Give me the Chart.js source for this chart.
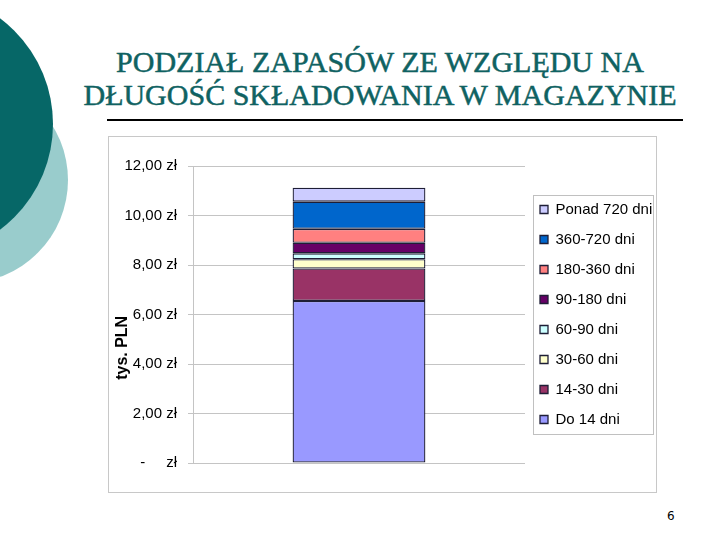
<!DOCTYPE html>
<html><head><meta charset="utf-8">
<script src="https://cdn.jsdelivr.net/npm/chart.js@4/dist/chart.umd.min.js"></script>
<style>
html,body{margin:0;padding:0;background:#fff}
body{width:720px;height:540px;position:relative;overflow:hidden;font-family:'Liberation Sans',Arial,sans-serif}
.circ{position:absolute;border-radius:50%}
#light{left:-138px;top:77px;width:206px;height:206px;background:#99cccc}
#dark{left:-211px;top:-8px;width:264px;height:264px;background:#066767}
.title{position:absolute;left:80px;width:600px;text-align:center;font-family:'Liberation Serif','Times New Roman',serif;font-size:30px;color:#0f6262;white-space:nowrap;line-height:33px;-webkit-text-stroke:0.5px #0f6262}
#t1{top:45px}
#t2{top:78px}
#rule{position:absolute;left:107px;top:119px;width:576px;height:2px;background:#000}
#box{position:absolute;left:108px;top:136px;width:549px;height:357px;border:1px solid #c8c8c8;box-sizing:border-box}
#wrap{position:absolute;left:109px;top:137px;width:547px;height:355px}
#page{position:absolute;left:667px;top:509px;font-size:12px;color:#000;font-family:'DejaVu Sans',sans-serif}
</style></head>
<body>
<div id="light" class="circ"></div>
<div id="dark" class="circ"></div>
<div id="t1" class="title">PODZIAŁ ZAPASÓW ZE WZGLĘDU NA</div>
<div id="t2" class="title">DŁUGOŚĆ SKŁADOWANIA W MAGAZYNIE</div>
<div id="rule"></div>
<div id="box"></div>
<div id="wrap"><canvas id="c"></canvas></div>
<div id="page">6</div>
<script>
const categories = [''];
const seriesNames = ['Do 14 dni','14-30 dni','30-60 dni','60-90 dni','90-180 dni','180-360 dni','360-720 dni','Ponad 720 dni'];
const seriesValues = [6.55, 1.31, 0.37, 0.24, 0.43, 0.56, 1.10, 0.56];
const seriesColors = ['#9999ff','#993366','#ffffcc','#ccffff','#660066','#ff8080','#0066cc','#ccccff'];
const yTickValues = [0, 2, 4, 6, 8, 10, 12];
const yTickLabels = ['-     zł', '2,00 zł', '4,00 zł', '6,00 zł', '8,00 zł', '10,00 zł', '12,00 zł'];
const yAxisTitle = 'tys. PLN';

Chart.defaults.font.family = "'Liberation Sans', Arial, sans-serif";
Chart.defaults.color = '#000';

const legendBorder = {
  id: 'legendBorder',
  afterDraw(chart) {
    const lg = chart.legend;
    if (!lg || !lg.legendHitBoxes || !lg.legendHitBoxes.length) return;
    const hb = lg.legendHitBoxes;
    const left = Math.min(...hb.map(h => h.left)) - 7;
    const top = Math.min(...hb.map(h => h.top)) - 7;
    const bottom = Math.max(...hb.map(h => h.top + h.height)) + 7;
    const right = left + 120;
    const ctx = chart.ctx;
    ctx.save();
    ctx.strokeStyle = '#c0c0c0';
    ctx.lineWidth = 1;
    ctx.strokeRect(Math.round(left) + 0.5, Math.round(top) + 0.5, Math.round(right - left), Math.round(bottom - top));
    ctx.restore();
  }
};

const datasets = seriesNames.map((name, i) => ({
  label: name,
  data: [seriesValues[i]],
  backgroundColor: seriesColors[i],
  borderColor: '#1e1e36',
  borderWidth: 1.3,
  borderSkipped: false,
  barPercentage: 0.4,
  categoryPercentage: 1.0
}));

new Chart(document.getElementById('c'), {
  type: 'bar',
  data: { labels: categories, datasets },
  options: {
    responsive: true,
    maintainAspectRatio: false,
    animation: false,
    devicePixelRatio: 1,
    layout: { padding: { top: 29, bottom: 29, left: 0, right: 0 } },
    plugins: {
      title: { display: false },
      tooltip: { enabled: false },
      legend: {
        position: 'right',
        reverse: true,
        maxWidth: 131,
        labels: { boxWidth: 8, boxHeight: 8, padding: 15, font: { size: 15 }, color: '#000' }
      }
    },
    scales: {
      x: { display: false, stacked: true },
      y: {
        stacked: true,
        min: 0, max: 12,
        afterFit: s => { s.width = 84; },
        afterBuildTicks: s => { s.ticks = yTickValues.map(v => ({ value: v })); },
        ticks: {
          padding: 11,
          font: { size: 15 },
          color: '#000',
          callback: (v) => { const k = yTickValues.indexOf(v); return k >= 0 ? yTickLabels[k] : ''; }
        },
        grid: { color: '#c4c4c4', tickLength: 5, lineWidth: 1 },
        border: { color: '#c4c4c4' },
        title: { display: true, text: yAxisTitle + '               ', font: { size: 16, weight: 'bold' }, color: '#000', padding: { top: 4, bottom: 0 } }
      }
    }
  },
  plugins: [legendBorder]
});
</script>
</body></html>
